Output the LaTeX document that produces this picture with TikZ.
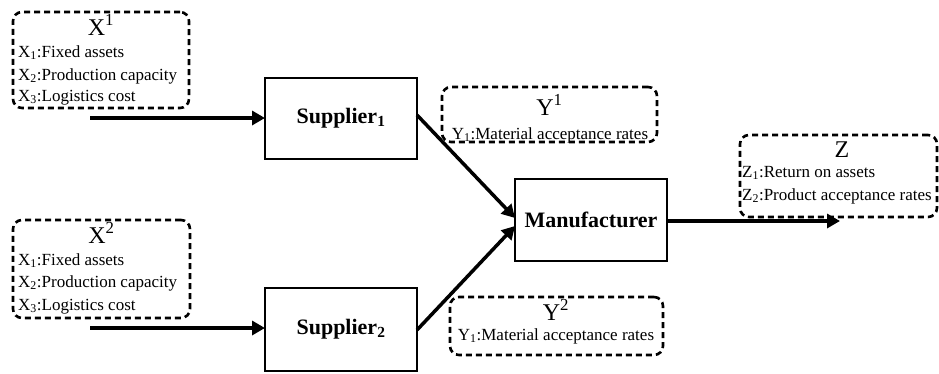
\documentclass[tikz,border=0pt]{standalone}
\usepackage{fontspec}
\setmainfont{Liberation Serif}
\usetikzlibrary{arrows.meta}
\begin{document}
\begin{tikzpicture}[x=1pt,y=-1pt,
  dbox/.style={draw, line width=2.6pt, dash pattern=on 6pt off 4pt,
    rounded corners=9pt, inner sep=0pt, outer sep=0pt, anchor=north west},
  hdr/.style={font=\fontsize{24}{28}\selectfont, inner sep=0pt, anchor=base},
  item/.style={font=\fontsize{17}{20}\selectfont, inner sep=0pt, anchor=base west},
  itemc/.style={item, anchor=base},
  proc/.style={draw, line width=1.5pt, font=\fontsize{22}{26}\selectfont\bfseries,
    inner sep=0pt, outer sep=0pt, anchor=north west},
  flow/.style={line width=3.5pt, -{Triangle[length=13pt,width=14pt]}}]
\useasboundingbox (0,0) rectangle (939,373);

% input group 1
\node[dbox, minimum width=176pt, minimum height=96pt] (bx1) at (13,12) {};
\node[hdr] (hx1) at (101,35) {X\textsuperscript{1}};
\node[item] (x11) at (18,57) {X\textsubscript{1}:Fixed assets};
\node[item] (x12) at (18,80) {X\textsubscript{2}:Production capacity};
\node[item] (x13) at (18,101) {X\textsubscript{3}:Logistics cost};

% input group 2
\node[dbox, minimum width=177pt, minimum height=98pt] (bx2) at (13,220) {};
\node[hdr] (hx2) at (101.5,243) {X\textsuperscript{2}};
\node[item] (x21) at (18,265) {X\textsubscript{1}:Fixed assets};
\node[item] (x22) at (18,287) {X\textsubscript{2}:Production capacity};
\node[item] (x23) at (18,310) {X\textsubscript{3}:Logistics cost};

% intermediate measures
\node[dbox, minimum width=215pt, minimum height=55pt] (by1) at (442,87) {};
\node[hdr] (hy1) at (549.5,115) {Y\textsuperscript{1}};
\node[itemc] (y11) at (550,139) {Y\textsubscript{1}:Material acceptance rates};

\node[dbox, minimum width=213pt, minimum height=58pt] (by2) at (450,297) {};
\node[hdr] (hy2) at (556,320) {Y\textsuperscript{2}};
\node[itemc] (y21) at (556,340) {Y\textsubscript{1}:Material acceptance rates};

% outputs
\node[dbox, minimum width=197pt, minimum height=82pt] (bz) at (740,135) {};
\node[hdr] (hz) at (842,157) {Z};
\node[item] (z1) at (742,177) {Z\textsubscript{1}:Return on assets};
\node[item] (z2) at (742,200) {Z\textsubscript{2}:Product acceptance rates};

% decision units
\node[proc, minimum width=152pt, minimum height=81pt] (s1) at (265,78) {Supplier\textsubscript{1}};
\node[proc, minimum width=152pt, minimum height=83pt] (s2) at (265,288) {Supplier\textsubscript{2}};
\node[proc, minimum width=152pt, minimum height=82pt] (m) at (515,179) {Manufacturer};

% flows
\coordinate (in1) at (90,118);
\coordinate (in2) at (90,328);
\coordinate (out) at (840,221);
\draw[flow] (in1) -- (in1 -| s1.west);
\draw[flow] (in2) -- (in2 -| s2.west);
\draw[flow] ([yshift=3.5pt]s1.east) -- ([yshift=2pt]m.west);
\draw[flow] ([yshift=-0.5pt]s2.east) -- ([yshift=-6pt]m.west);
\draw[flow] (m.east |- out) -- (out);
\end{tikzpicture}
\end{document}
